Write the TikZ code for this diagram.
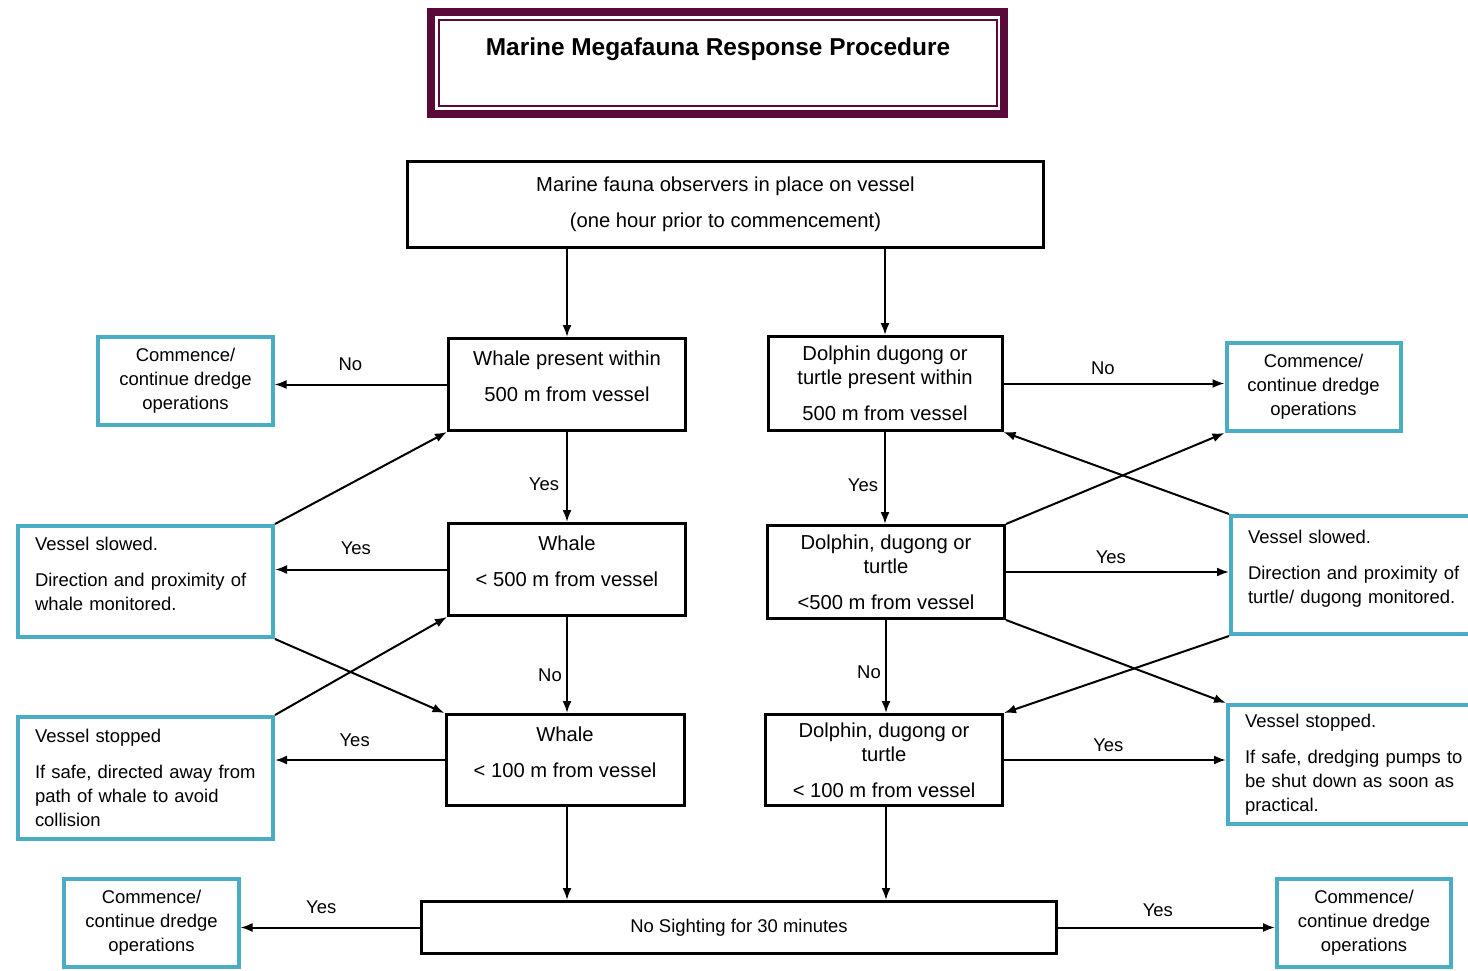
\documentclass[tikz,border=0pt]{standalone}
\usepackage{fontspec}
\setmainfont{Liberation Sans}
\usetikzlibrary{arrows.meta}
\definecolor{aqua}{RGB}{75,172,198}
\definecolor{plum}{RGB}{90,10,58}

\begin{document}
\begin{tikzpicture}[x=0.2mm,y=-0.2mm,
	blk/.style={draw,line width=0.6mm,align=center,inner sep=0pt,font=\fontsize{11.5}{13.6}\selectfont},
	cyn/.style={draw=aqua,line width=0.8mm,align=center,inner sep=0pt,minimum width=34.8mm,minimum height=17.6mm,font=\fontsize{10.5}{13.6}\selectfont},
	cynl/.style={cyn,anchor=north west,align=left,inner xsep=3.4mm,text width=44.2mm,minimum height=#1},
	arr/.style={line width=0.4mm,-{Latex[length=2.4mm,width=1.8mm]}},
	lbl/.style={font=\fontsize{10.5}{12}\selectfont,inner sep=0pt}]
	\useasboundingbox (0,0) rectangle (1468,971);

	\node[draw=plum,line width=1.6mm,minimum width=114.6mm,minimum height=20.4mm] (ttl) at (717.5,63) {};
	\node[draw=plum,line width=0.4mm,minimum width=111.6mm,minimum height=17.2mm,text height=10pt,text depth=19pt,font=\fontsize{13.9}{16}\selectfont\bfseries] (ttlin) at (718,63) {Marine Megafauna Response Procedure};

	\node[blk,minimum width=127.2mm,minimum height=17.2mm] (obs) at (725.5,204.5) {Marine fauna observers in place on vessel\\[7pt](one hour prior to commencement)};

	\node[blk,minimum width=47.4mm,minimum height=18.4mm] (wh1) at (567,384.5) {Whale present within\\[7pt]500 m from vessel\\[-4.5pt]\mbox{}};
	\node[blk,minimum width=47.4mm,minimum height=18.4mm] (wh2) at (567,569.5) {Whale\\[7pt]< 500 m from vessel\\[-4.5pt]\mbox{}};
	\node[blk,minimum width=47.6mm,minimum height=18.2mm] (wh3) at (565,760) {Whale\\[7pt]< 100 m from vessel\\[-4.5pt]\mbox{}};

	\node[blk,minimum width=46.8mm,minimum height=18.8mm] (do1) at (885,383.5) {Dolphin dugong or\\turtle present within\\[7pt]500 m from vessel};
	\node[blk,minimum width=47.4mm,minimum height=18.6mm] (do2) at (886,572) {Dolphin, dugong or\\turtle\\[7pt]<500 m from vessel};
	\node[blk,minimum width=47.4mm,minimum height=18.2mm] (do3) at (884,760) {Dolphin, dugong or\\turtle\\[7pt]< 100 m from vessel};

	\node[blk,minimum width=127mm,minimum height=10.4mm,font=\fontsize{10.5}{13.6}\selectfont] (none) at (739,927.5) {No Sighting for 30 minutes};

	\node[cyn] (cl1) at (185.5,381) {Commence/\\continue dredge\\operations};
	\node[cynl=22.2mm] (cl2) at (16,524) {Vessel slowed.\\[7pt]Direction and proximity of\\whale monitored.\\[-4.5pt]\mbox{}};
	\node[cynl=24.4mm] (cl3) at (16,715) {Vessel stopped\\[7pt]If safe, directed away from\\path of whale to avoid\\collision};
	\node[cyn] (cl4) at (151.5,922.5) {Commence/\\continue dredge\\operations};

	\node[cyn] (cr1) at (1313.5,387) {Commence/\\continue dredge\\operations};
	\node[cynl=23.6mm] (cr2) at (1229,514) {Vessel slowed.\\[7pt]Direction and proximity of\\turtle/ dugong monitored.\\[-4.5pt]\mbox{}};
	\node[cynl=23.8mm] (cr3) at (1226,703) {Vessel stopped.\\[7pt]If safe, dredging pumps to\\be shut down as soon as\\practical.};
	\node[cyn] (cr4) at (1364,922.5) {Commence/\\continue dredge\\operations};

	\draw[arr] (obs.south -| wh1.north) -- (wh1.north);
	\draw[arr] (obs.south -| do1.north) -- (do1.north);

	\draw[arr] (wh1.west) -- (wh1.west -| cl1.east) node[lbl,pos=.56,yshift=4mm] {No};
	\draw[arr] (wh1.south) -- (wh2.north) node[lbl,pos=.58,xshift=-4.6mm] {Yes};
	\draw[arr] (wh2.west) -- (wh2.west -| cl2.east) node[lbl,pos=.53,yshift=4.2mm] {Yes};
	\draw[arr] (wh2.south) -- (wh2.south |- wh3.north) node[lbl,pos=.61,xshift=-3.4mm] {No};
	\draw[arr] (wh3.west) -- (wh3.west -| cl3.east) node[lbl,pos=.53,yshift=4mm] {Yes};
	\draw[arr] (wh2.south |- wh3.south) -- (wh2.south |- none.north);
	\draw[arr] (cl2.north east) -- (wh1.south west);
	\draw[arr] (cl2.south east) -- (wh3.north west);
	\draw[arr] (cl3.north east) -- (wh2.south west);

	\draw[arr] (do1.east) -- (do1.east -| cr1.west) node[lbl,pos=.45,yshift=3mm] {No};
	\draw[arr] (do1.south) -- (do1.south |- do2.north) node[lbl,pos=.58,xshift=-4.4mm] {Yes};
	\draw[arr] (do2.east) -- (do2.east -| cr2.west) node[lbl,pos=.47,yshift=3mm] {Yes};
	\draw[arr] (do2.south) -- (do2.south |- do3.north) node[lbl,pos=.56,xshift=-3.4mm] {No};
	\draw[arr] (do3.east) -- (do3.east -| cr3.west) node[lbl,pos=.47,yshift=3mm] {Yes};
	\draw[arr] (do2.south |- do3.south) -- (do2.south |- none.north);
	\draw[arr] (cr2.north west) -- (do1.south east);
	\draw[arr] (do2.north east) -- (cr1.south west);
	\draw[arr] (do2.south east) -- (cr3.north west);
	\draw[arr] (cr2.south west) -- (do3.north east);

	\draw[arr] (none.west) -- (none.west -| cl4.east) node[lbl,pos=.55,yshift=4mm] {Yes};
	\draw[arr] (none.east) -- (none.east -| cr4.west) node[lbl,pos=.46,yshift=3.4mm] {Yes};
\end{tikzpicture}
\end{document}
